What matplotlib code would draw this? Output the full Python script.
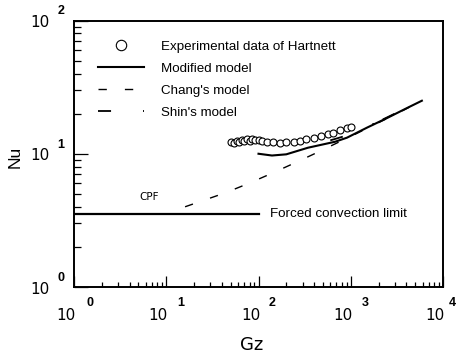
import matplotlib
matplotlib.use("Agg")
import matplotlib.pyplot as plt
from matplotlib.ticker import LogLocator, NullFormatter

# ---------------- data ----------------
exp_gz = [50, 54, 58, 62, 66, 70, 75, 80, 86, 92, 100, 110, 125, 145, 170,
          200, 240, 280, 330, 400, 480, 560, 650, 760, 900, 1000]
exp_nu = [12.3, 12.1, 12.5, 12.2, 12.6, 12.4, 12.8, 12.5, 12.9, 12.6, 12.7,
          12.4, 12.3, 12.2, 12.1, 12.2, 12.3, 12.5, 12.8, 13.2, 13.6, 14.0,
          14.4, 15.0, 15.6, 16.0]

mod_gz = [100, 140, 200, 344, 675, 910, 1500, 2500, 4000, 5900]
mod_nu = [10.0, 9.7, 9.9, 11.1, 12.3, 13.2, 15.7, 18.6, 21.9, 25.0]

chang_gz = [16, 44, 81, 144, 263, 430, 1000, 3160, 5900]
chang_nu = [4.0, 5.1, 6.05, 7.2, 8.7, 10.2, 13.5, 20.0, 25.0]

shin_gz = [600, 1000, 1600, 2500, 4000, 5900]
shin_nu = [12.6, 14.0, 16.2, 18.8, 22.0, 25.0]

fcl_gz = [1, 100]
fcl_nu = [3.55, 3.55]

x_decades = [0, 1, 2, 3, 4]
y_decades = [0, 1, 2]

labels = ["Experimental data of Hartnett", "Modified model",
          "Chang's model", "Shin's model"]

# ---------------- figure ----------------
plt.rcParams['lines.scale_dashes'] = False
W, H, DPI = 457, 359, 100
fig = plt.figure(figsize=(W / DPI, H / DPI), dpi=DPI)
ax = fig.add_axes([74 / W, 1 - 287 / H, 369 / W, 266.5 / H])
ax.set_xscale('log')
ax.set_yscale('log')
ax.set_xlim(1, 1e4)
ax.set_ylim(1, 100)

lfont = dict(family='Liberation Sans', size=9.6)

h_exp, = ax.plot(exp_gz, exp_nu, linestyle='none', marker='o', ms=5,
                 mfc='white', mec='black', mew=0.8, label=labels[0])
h_mod, = ax.plot(mod_gz, mod_nu, color='black', lw=1.5, label=labels[1])
h_ch, = ax.plot(chang_gz, chang_nu, color='black', lw=1.0,
                dashes=[6, 13], label=labels[2])
h_sh, = ax.plot(shin_gz, shin_nu, color='black', lw=1.3,
                dashes=[9.4, 23, 1.4, 7], label=labels[3])
ax.plot(fcl_gz, fcl_nu, color='black', lw=1.6)

ax.text(6.6, 4.7, 'CPF', ha='center', va='center',
        family='Liberation Sans Narrow', size=7.5)
ax.text(133, 3.55, 'Forced convection limit', ha='left', va='center', **lfont)

leg = ax.legend(handles=[h_exp, h_mod, h_ch, h_sh], loc='upper left',
                bbox_to_anchor=(0.046, 0.95), frameon=False, borderpad=0,
                handlelength=3.45, handletextpad=1.28, labelspacing=0.72,
                numpoints=1, prop=lfont, markerscale=1.5)

# ---------------- axes styling ----------------
for s in ax.spines.values():
    s.set_linewidth(1.4)
ax.xaxis.set_ticks_position('bottom')
ax.yaxis.set_ticks_position('left')
ax.xaxis.set_minor_locator(LogLocator(base=10, subs=range(2, 10)))
ax.yaxis.set_minor_locator(LogLocator(base=10, subs=range(2, 10)))
ax.xaxis.set_major_formatter(NullFormatter())
ax.xaxis.set_minor_formatter(NullFormatter())
ax.yaxis.set_major_formatter(NullFormatter())
ax.yaxis.set_minor_formatter(NullFormatter())
ax.tick_params(axis='x', which='major', direction='in', length=8, width=0.9)
ax.tick_params(axis='x', which='minor', direction='in', length=3.6, width=0.9)
ax.tick_params(axis='y', which='major', direction='in', length=10, width=0.9)
ax.tick_params(axis='y', which='minor', direction='in', length=5, width=0.9)

px = 0.72  # points per pixel at 100 dpi
tfont = dict(family='Liberation Sans Narrow', size=11)
efont = dict(family='Liberation Sans', size=9, weight='bold')
xtr = ax.get_xaxis_transform()
ytr = ax.get_yaxis_transform()
exp_dx = {0: 16, 1: 14, 2: 14, 3: 15, 4: 9}
for k in x_decades:
    ax.annotate('10', xy=(10 ** k, 0), xycoords=xtr,
                xytext=(-8 * px, -28 * px), textcoords='offset points',
                ha='center', va='center', annotation_clip=False, **tfont)
    ax.annotate(str(k), xy=(10 ** k, 0), xycoords=xtr,
                xytext=(exp_dx[k] * px, -16 * px), textcoords='offset points',
                ha='center', va='center', annotation_clip=False, **efont)
for k in y_decades:
    ax.annotate('10', xy=(0, 10 ** k), xycoords=ytr,
                xytext=(-34 * px, -2 * px), textcoords='offset points',
                ha='center', va='center', annotation_clip=False, **tfont)
    ax.annotate(str(k), xy=(0, 10 ** k), xycoords=ytr,
                xytext=(-13 * px, 9 * px), textcoords='offset points',
                ha='center', va='center', annotation_clip=False, **efont)

fig.text(252 / W, 1 - 345 / H, 'Gz', ha='center', va='center',
         family='Liberation Sans Narrow', size=13)
fig.text(15 / W, 1 - 157 / H, 'Nu', ha='center', va='center', rotation=90,
         family='Liberation Sans', size=12.5)

fig.savefig('out.png', dpi=DPI)
